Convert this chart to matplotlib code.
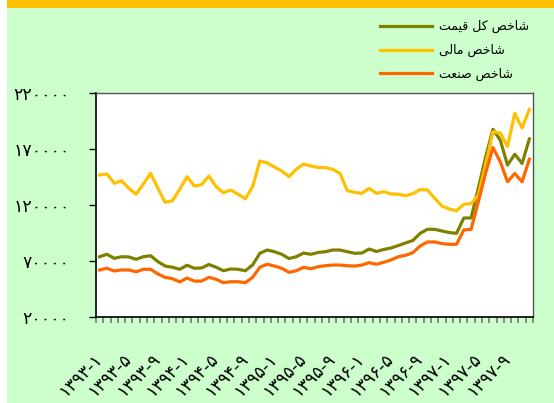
import matplotlib
matplotlib.use("Agg")
import matplotlib.pyplot as plt
from matplotlib.patches import Rectangle

plt.rcParams['font.family'] = ['DejaVu Sans']

# Series names (Arabic presentation forms, visual order)
name_total = "ﺖﻤﻴﻗ ﻞﻛ ﺺﺧﺎﺷ"     # شاخص کل قیمت
name_fin = "ﻰﻟﺎﻣ ﺺﺧﺎﺷ"          # شاخص مالی
name_ind = "ﺖﻌﻨﺻ ﺺﺧﺎﺷ"          # شاخص صنعت

# Monthly index values, 1393-1 ... 1397-12
total_index = [73800, 76000, 72400, 73800, 73600, 71500, 73800, 74700, 69400, 65500,
               64400, 62600, 66200, 63500, 63800, 66900, 64400, 61300, 62900, 62600,
               61300, 66400, 76900, 79800, 78300, 76000, 72200, 73800, 77100, 76000,
               77600, 78300, 79800, 79800, 78300, 76900, 77100, 80700, 78500, 80300,
               81600, 83800, 86100, 88300, 94700, 98300, 98300, 96800, 95400, 94700,
               108400, 108400, 135200, 162900, 187600, 178000, 155700, 165300, 157100, 178900]

financial_index = [146800, 147700, 139400, 141700, 134900, 129600, 138800, 148300, 134900, 122400,
                   123800, 134000, 145300, 137000, 138100, 145900, 136300, 131000, 133400, 129600,
                   125600, 136300, 159300, 157500, 153900, 150400, 145300, 151900, 156600, 154800,
                   153500, 153300, 151900, 148300, 132800, 131300, 130400, 134900, 130400, 131900,
                   129800, 129600, 128300, 130100, 133800, 133400, 126000, 119100, 116400, 114900,
                   120600, 121200, 128900, 156600, 185400, 184300, 172200, 201900, 188800, 205300]

industry_index = [62000, 63500, 61100, 62000, 62000, 60400, 62600, 62600, 58400, 55400,
                  54200, 51300, 54800, 52100, 52100, 55400, 53700, 50600, 51500, 51500,
                  50600, 55400, 64400, 67100, 65500, 63500, 59900, 61300, 64400, 63100,
                  64900, 65800, 66400, 66400, 65800, 65500, 66400, 68500, 67100, 68800,
                  70900, 73800, 75100, 77400, 83400, 87000, 87000, 85600, 84900, 84900,
                  97700, 98300, 123100, 148600, 171300, 158700, 140800, 148100, 140800, 160800]

x_labels = ['۱۳۹۳-۱', '۱۳۹۳-۵', '۱۳۹۳-۹', '۱۳۹۴-۱', '۱۳۹۴-۵', '۱۳۹۴-۹',
            '۱۳۹۵-۱', '۱۳۹۵-۵', '۱۳۹۵-۹', '۱۳۹۶-۱', '۱۳۹۶-۵', '۱۳۹۶-۹',
            '۱۳۹۷-۱', '۱۳۹۷-۵', '۱۳۹۷-۹']
y_ticks = [20000, 70000, 120000, 170000, 220000]
y_labels = ['۲۰۰۰۰', '۷۰۰۰۰', '۱۲۰۰۰۰', '۱۷۰۰۰۰', '۲۲۰۰۰۰']

W, H = 554, 403
fig = plt.figure(figsize=(W / 100, H / 100), dpi=100)
fig.patch.set_facecolor('#CCFFCC')
fig.patches.append(Rectangle((0, 0), 7 / W, 1, transform=fig.transFigure,
                             facecolor='white', edgecolor='none', zorder=0))
fig.patches.append(Rectangle((7 / W, 1 - 8 / H), 1, 8 / H, transform=fig.transFigure,
                             facecolor='#FFC000', edgecolor='none', zorder=0))

ax = fig.add_axes([96 / W, (H - 317) / H, 437 / W, 224 / H])
ax.set_facecolor('white')

n = len(total_index)
xs = list(range(n))
l1, = ax.plot(xs, total_index, color='#808000', lw=2.3, solid_joinstyle='round')
l2, = ax.plot(xs, financial_index, color='#FFC000', lw=2.3, solid_joinstyle='round')
l3, = ax.plot(xs, industry_index, color='#FF6600', lw=2.3, solid_joinstyle='round')

ax.set_xlim(-0.5, n - 0.5)
ax.set_ylim(20000, 220000)

ax.set_yticks(y_ticks)
ax.set_yticklabels(y_labels, fontsize=12.5)
ax.tick_params(axis='y', direction='out', length=5, width=1, color='black', pad=14)

ax.set_xticks([i - 0.5 for i in range(n + 1)])
ax.set_xticklabels([])
ax.tick_params(axis='x', which='major', direction='out', length=4, width=1.2, color='#777777')
ax.set_xticks(list(range(0, n, 4)), minor=True)
ax.set_xticklabels(x_labels, minor=True, rotation=45, ha='right', va='center',
                   rotation_mode='anchor', fontsize=12.5)
ax.tick_params(axis='x', which='minor', length=0, pad=28)

for s in ['left', 'bottom']:
    ax.spines[s].set_color('black')
    ax.spines[s].set_linewidth(1.2)
for s in ['top', 'right']:
    ax.spines[s].set_color('#555555')
    ax.spines[s].set_linewidth(1.0)

fig.legend([l1, l2, l3], [name_total, name_fin, name_ind],
           loc='upper left', bbox_to_anchor=(369 / W, 1 - 9 / H),
           frameon=False, fontsize=9, handlelength=4.15, handletextpad=0.56,
           labelspacing=0.85)

fig.savefig('out.png', dpi=100, facecolor=fig.get_facecolor())
